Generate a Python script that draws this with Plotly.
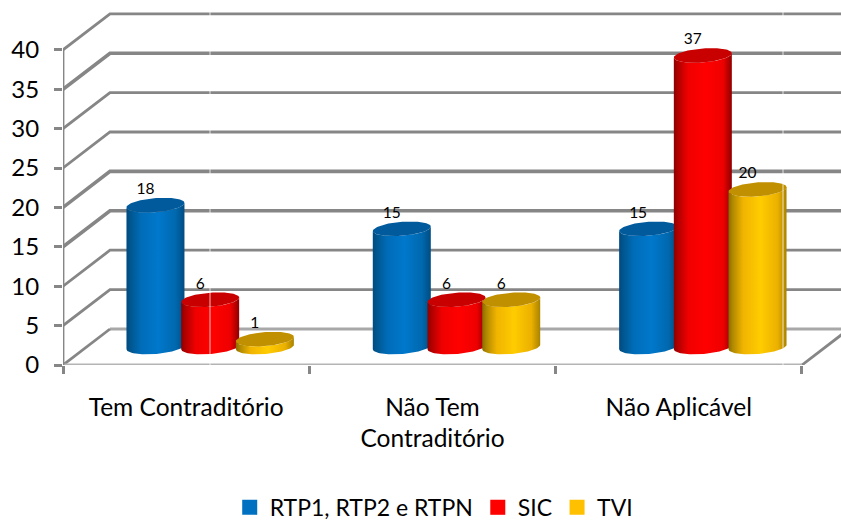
import numpy as np
import plotly.graph_objects as go

categories = ["Tem Contraditório", "Não Tem<br>Contraditório", "Não Aplicável"]
rtp_values = [18, 15, 15]
sic_values = [6, 6, 37]
tvi_values = [1, 6, 20]
y_ticks = [0, 5, 10, 15, 20, 25, 30, 35, 40]

# Pixel scale of the oblique projection
PX_X = 246.33      # pixels per category
PX_Y = 7.88        # pixels per value unit
X_MAX = (841 - 63) / PX_X
Y_MAX = 365 / PX_Y
DX = 47 / PX_X     # wall depth
DY = 36 / PX_Y
MID_X = 24 / PX_X  # bars sit half way into the depth
MID_Y = 18 / PX_Y
RX = 29 / PX_X
RY = 7 / PX_Y
STEP = 54.7 / PX_X
TILT = 0.075

GRID = "#868686"
series = [
    dict(name="RTP1, RTP2 e RTPN", values=rtp_values, legend="#0070C0", top="#005A9C",
         scale=[[0, "#004A80"], [0.07, "#00568F"], [0.25, "#006CB8"], [0.55, "#0078CC"], [0.85, "#0068AE"], [1, "#004C82"]]),
    dict(name="SIC", values=sic_values, legend="#FF0000", top="#C80000",
         scale=[[0, "#8C0000"], [0.07, "#B00000"], [0.25, "#F00000"], [0.55, "#FF0000"], [0.85, "#EE0000"], [1, "#900000"]]),
    dict(name="TVI", values=tvi_values, legend="#FFC000", top="#C09000",
         scale=[[0, "#8A6C00"], [0.07, "#B08800"], [0.25, "#F0B400"], [0.55, "#FFCC00"], [0.85, "#EBB000"], [1, "#A88200"]]),
]

fig = go.Figure()


def line(xs, ys, color=GRID, width=2.8):
    fig.add_trace(go.Scatter(x=xs, y=ys, mode="lines", line=dict(color=color, width=width),
                             showlegend=False, hoverinfo="skip", cliponaxis=False))


# Back wall and side wall grid
for v in y_ticks[1:]:
    line([0, DX, X_MAX], [v, v + DY, v + DY], width=3.6 if v in (35, 20, 15) else 2.8)
# Floor
line([DX, X_MAX], [DY, DY], color="#A8A8A8", width=2.8)
line([0, DX], [0, DY])
line([3, 3 + DX], [0, DY])
line([0, 3], [0, 0], color="#B4B4B4", width=2.8)
# Value axis line
line([0, 0], [0, 40], width=2.8)

theta = np.linspace(0, 2 * np.pi, 90)
arc = np.linspace(np.pi, 2 * np.pi, 50)
label_x, label_y, label_t = [], [], []


def ell(cx, cy, angles):
    ex = cx + RX * np.cos(angles)
    ey = cy + RY * np.sin(angles) + TILT * (ex - cx) * PX_X / PX_Y
    return ex, ey


for c in range(3):
    for s, info in enumerate(series):
        value = info["values"][c]
        cx = c + 0.5 + MID_X + (s - 1) * STEP
        base = MID_Y
        top = MID_Y + value
        bx, by = ell(cx, base, arc)
        tx, ty = ell(cx, top, arc[::-1])
        fig.add_trace(go.Scatter(
            x=np.concatenate([bx, tx]).tolist(), y=np.concatenate([by, ty]).tolist(),
            mode="lines", line=dict(width=0, color=info["legend"]), fill="toself",
            fillgradient=dict(type="horizontal", colorscale=info["scale"]),
            showlegend=False, hoverinfo="skip"))
        ex, ey = ell(cx, top, theta)
        fig.add_trace(go.Scatter(
            x=ex.tolist(), y=ey.tolist(), mode="lines", line=dict(width=0, color=info["top"]),
            fill="toself", fillcolor=info["top"], showlegend=False, hoverinfo="skip"))
        label_x.append(cx - 10 / PX_X)
        label_y.append(top + 15 / PX_Y)
        label_t.append(str(value))

# Data labels
fig.add_trace(go.Scatter(x=label_x, y=label_y, text=label_t, mode="text", textposition="middle center",
                         textfont=dict(family="Lato", size=15.5, color="#000000"),
                         showlegend=False, hoverinfo="skip", cliponaxis=False))

# Thin light seams of the source picture
for sx in (147 / PX_X, 720 / PX_X):
    line([sx, sx], [0, Y_MAX], color="rgba(255,255,255,0.75)", width=1)

# Legend entries
for info in series:
    fig.add_trace(go.Scatter(x=[None], y=[None], mode="markers", name=info["name"],
                             marker=dict(symbol="square", size=15, color=info["legend"])))

fig.update_layout(
    width=841, height=522, margin=dict(l=63, r=0, t=0, b=157, pad=0, autoexpand=False),
    paper_bgcolor="white", plot_bgcolor="white",
    font=dict(family="Lato", color="#000000"),
    xaxis=dict(range=[0, X_MAX], tickvals=[0.5, 1.5, 2.5], ticktext=categories, ticks="", showgrid=False,
               zeroline=False, showline=False, tickfont=dict(size=24.5), ticklabelstandoff=25, automargin=False,
               minor=dict(tickvals=[0, 1, 2, 3], ticks="outside", ticklen=8, tickwidth=2.8, tickcolor=GRID, showgrid=False)),
    yaxis=dict(range=[0, Y_MAX], tickvals=y_ticks, ticks="outside", ticklen=8, tickwidth=2.8, tickcolor=GRID,
               showgrid=False, zeroline=False, showline=False, tickfont=dict(size=24), ticklabelstandoff=10, automargin=False),
    legend=dict(orientation="h", x=0.4765, xref="paper", xanchor="center", y=-0.39, yref="paper", yanchor="middle",
                font=dict(size=23), itemwidth=30, bgcolor="rgba(0,0,0,0)"),
    showlegend=True,
)

fig.write_html("out.html", config={"displayModeBar": False}, post_script="document.body.style.margin='0';")
